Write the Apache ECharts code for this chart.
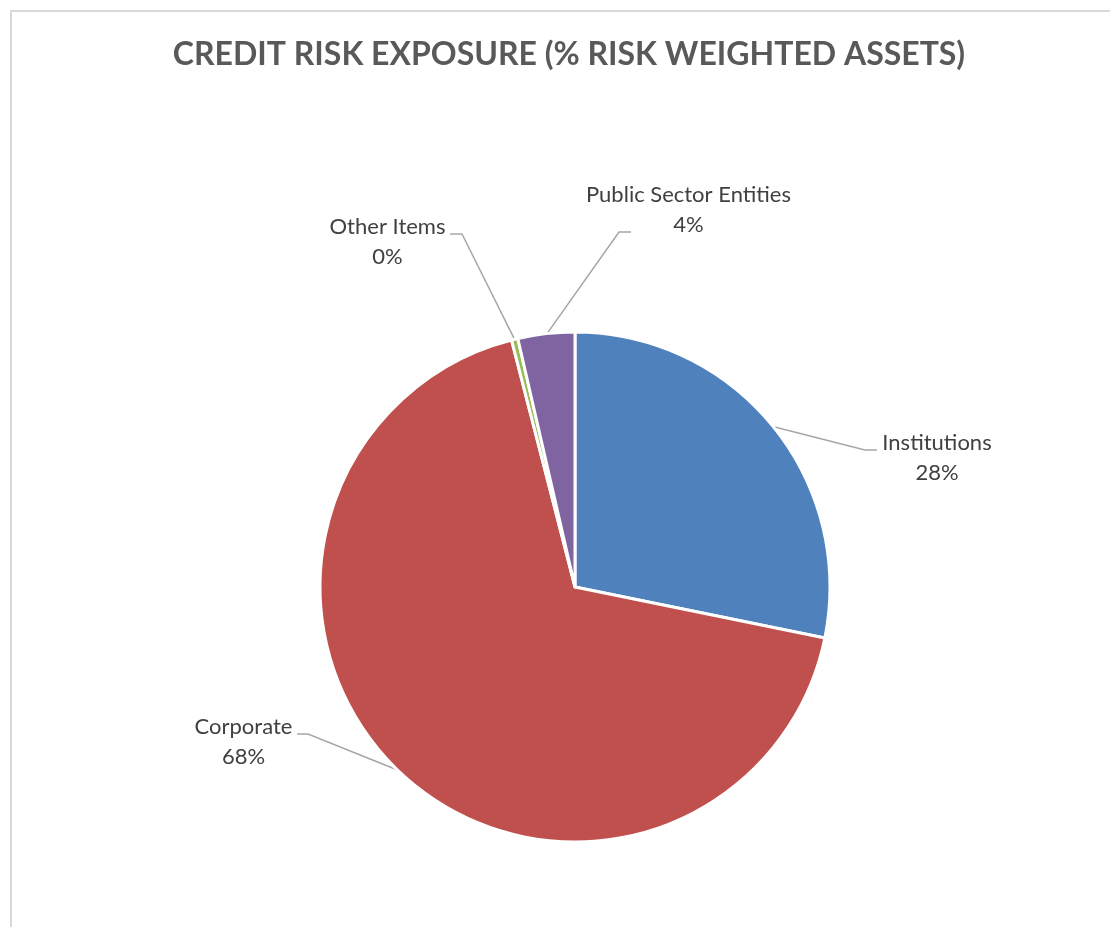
<!DOCTYPE html>
<html>
<head>
<meta charset="utf-8">
<script src="https://cdn.jsdelivr.net/npm/echarts@6/dist/echarts.min.js"></script>
<style>
  html, body { margin: 0; padding: 0; background: #ffffff; }
  #chart { width: 1110px; height: 927px; }
</style>
</head>
<body>
<div id="chart"></div>
<script>
// ---- data ----
var categories = ['Institutions', 'Corporate', 'Other Items', 'Public Sector Entities'];
var values = [28.2, 67.8, 0.4, 3.6];
var colors = ['#4F81BD', '#C0504D', '#9BBB59', '#8064A2'];
var titleText = 'CREDIT RISK EXPOSURE (% RISK WEIGHTED ASSETS)';

// ---- layout (positions only) ----
var CX = 575, CY = 587, R = 255;
var labelCenters = [[937, 458], [243.5, 742], [387.5, 242], [688.5, 210]];
var leaderBends = [[865, 450], [308, 734], [462, 234], [619, 232]];
var leaderEnds = [[877, 450], [297, 734], [450, 234], [631, 232]];

var total = values.reduce(function (a, b) { return a + b; }, 0);
function midPoint(i) {
  var cum = 0;
  for (var k = 0; k < i; k++) cum += values[k];
  var a = (cum + values[i] / 2) / total * 2 * Math.PI;
  var r = R - 1;
  return [CX + r * Math.sin(a), CY - r * Math.cos(a)];
}

var chart = echarts.init(document.getElementById('chart'));
chart.setOption({
  animation: false,
  backgroundColor: '#ffffff',
  title: {
    text: titleText,
    left: 564,
    top: 34,
    textAlign: 'center',
    textStyle: {
      fontFamily: 'Lato',
      fontWeight: 'bold',
      fontSize: 32,
      color: '#595959'
    }
  },
  graphic: [{
    type: 'rect',
    silent: true,
    shape: { x: 11, y: 11, width: 2000, height: 2000 },
    style: { fill: 'none', stroke: '#d9d9d9', lineWidth: 2 }
  }],
  series: [{
    type: 'pie',
    center: [CX, CY],
    radius: R,
    startAngle: 90,
    clockwise: true,
    avoidLabelOverlap: false,
    data: categories.map(function (c, i) {
      return { name: c, value: values[i], itemStyle: { color: colors[i] } };
    }),
    itemStyle: { borderColor: '#ffffff', borderWidth: 3 },
    label: {
      show: true,
      position: 'outside',
      formatter: function (p) { return p.name + '\n' + Math.round(p.percent) + '%'; },
      fontFamily: 'Lato',
      fontSize: 22,
      lineHeight: 30,
      color: '#404040',
      align: 'center'
    },
    labelLine: {
      show: true,
      length: 20,
      length2: 12,
      lineStyle: { color: '#a6a6a6', width: 1.5 }
    },
    labelLayout: function (params) {
      var i = params.dataIndex;
      return {
        x: labelCenters[i][0],
        y: labelCenters[i][1],
        align: 'center',
        verticalAlign: 'middle',
        labelLinePoints: [midPoint(i), leaderBends[i], leaderEnds[i]]
      };
    },
    emphasis: { disabled: true }
  }]
});
</script>
</body>
</html>
